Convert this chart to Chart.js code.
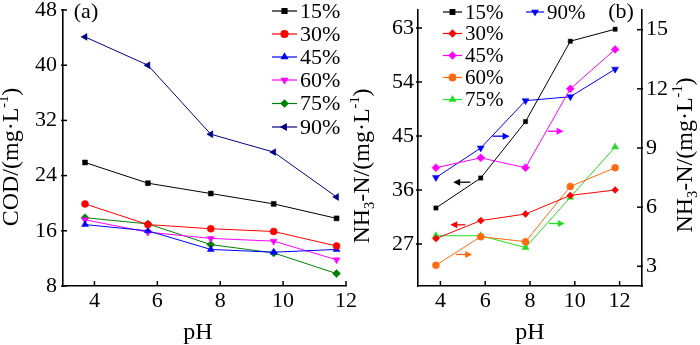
<!DOCTYPE html>
<html><head><meta charset="utf-8">
<script src="https://cdn.jsdelivr.net/npm/chart.js@4/dist/chart.umd.min.js"></script>
<style>
html,body{margin:0;padding:0;background:#fff;width:700px;height:345px;overflow:hidden}
#ca{position:absolute;left:0;top:0;width:370px;height:345px}
#cb{position:absolute;left:350px;top:0;width:350px;height:345px}
</style></head><body>
<canvas id="ca" width="370" height="345"></canvas>
<canvas id="cb" width="350" height="345"></canvas>
<script>
// ---------- data ----------
const seriesLabels = ['15%','30%','45%','60%','75%','90%'];
// panel (a): COD vs pH
const phA = [3.7, 5.7, 7.7, 9.7, 11.7];
const cod15 = [25.9, 22.9, 21.4, 19.9, 17.8];
const cod30 = [19.9, 16.9, 16.3, 15.9, 13.8];
const cod45 = [16.9, 16.0, 13.3, 12.9, 13.3];
const cod60 = [17.6, 15.8, 14.9, 14.5, 11.8];
const cod75 = [17.9, 17.0, 14.0, 12.8, 9.8];
const cod90 = [44.1, 40.0, 30.0, 27.4, 20.9];
const xTicksA = [4, 6, 8, 10, 12];
const yTicksA = [8, 16, 24, 32, 40, 48];
// panel (b): NH3-N vs pH (15%, 30% on left axis; others on right axis)
const phB = [3.8, 5.8, 7.8, 9.8, 11.8];
const nh15 = [33.0, 38.0, 47.4, 60.8, 62.8];
const nh30 = [27.9, 30.9, 32.0, 35.1, 36.0];
const nh45 = [8.0, 8.5, 8.0, 12.0, 14.0];
const nh60 = [3.05, 4.5, 4.25, 7.05, 8.0];
const nh75 = [4.55, 4.55, 3.95, 6.5, 9.05];
const nh90 = [7.5, 9.0, 11.4, 11.6, 13.0];
const xTicksB = [4, 6, 8, 10, 12];
const yTicksBLeft = [27, 36, 45, 54, 63];
const yTicksBRight = [3, 6, 9, 12, 15];

// ---------- styles ----------
const FONT = '"Liberation Serif", "Times New Roman", "DejaVu Serif", serif';
const stylesA = [
  {c:'#000000', ps:'rect', rot:0},
  {c:'#ff0000', ps:'circle', rot:0},
  {c:'#0000ff', ps:'triangle', rot:0},
  {c:'#ff00ff', ps:'triangle', rot:180},
  {c:'#007f00', ps:'rectRot', rot:0},
  {c:'#000080', ps:'triangle', rot:270}
];
const stylesB = [
  {c:'#000000', ps:'rect', rot:0, ax:'y'},
  {c:'#ff0000', ps:'rectRot', rot:0, ax:'y'},
  {c:'#ff00ff', ps:'rectRot', rot:0, ax:'y1'},
  {c:'#ff6a10', ps:'circle', rot:0, ax:'y1'},
  {c:'#22dd22', ps:'triangle', rot:0, ax:'y1'},
  {c:'#0000ff', ps:'triangle', rot:180, ax:'y1'}
];
// arrows in panel (b): [fromX, toX, y, axis, color]
const arrowsB = [
  [5.34, 4.57, 37.3, 'y', '#000000'],
  [5.11, 4.44, 30.2, 'y', '#ff0000'],
  [6.33, 7.09, 9.6, 'y1', '#0000ff'],
  [8.80, 9.50, 9.85, 'y1', '#ff00ff'],
  [8.85, 9.55, 5.17, 'y1', '#22dd22'],
  [4.70, 5.42, 3.6, 'y1', '#ff6a10']
];

function mk(xs, ys){ return xs.map((x,i)=>({x:x, y:ys[i]})); }
function ds(label, xs, ys, st, r){
  return {label, data: mk(xs, ys), borderColor: st.c, backgroundColor: st.c, borderWidth: 1,
    pointStyle: st.ps, pointRotation: st.rot, pointRadius: r, pointBorderWidth: 0.5,
    pointBorderColor: st.c, pointBackgroundColor: st.c, tension: 0, yAxisID: st.ax || 'y', clip: false};
}
const tickFont = {family: FONT, size: 22};

function richText(ctx, segs, x, y, size, rot){
  ctx.save();
  ctx.translate(x, y); ctx.rotate(rot);
  let total = 0;
  segs.forEach(s=>{ s.sz = (s.sub||s.sup) ? size*0.6 : size; ctx.font = s.sz+'px '+FONT; s.w = ctx.measureText(s.t).width; total += s.w; });
  let cx = -total/2;
  const base = size*0.27;
  ctx.fillStyle = '#000'; ctx.textBaseline = 'alphabetic'; ctx.textAlign = 'left';
  segs.forEach(s=>{
    ctx.font = s.sz+'px '+FONT;
    let by = base + (s.sub ? size*0.2 : 0) - (s.sup ? size*0.42 : 0);
    ctx.fillText(s.t, cx, by);
    cx += s.w;
  });
  ctx.restore();
}
function legendItem(ctx, st, x1, x2, y, r, text, size, tx){
  ctx.save();
  ctx.strokeStyle = st.c; ctx.fillStyle = st.c; ctx.lineWidth = 1.2;
  ctx.beginPath(); ctx.moveTo(x1, y); ctx.lineTo(x2, y); ctx.stroke();
  Chart.helpers.drawPoint(ctx, {pointStyle: st.ps, radius: r, rotation: st.rot, borderWidth: 0.5}, (x1+x2)/2, y);
  ctx.fillStyle = '#000'; ctx.font = size+'px '+FONT; ctx.textBaseline = 'middle'; ctx.textAlign = 'left';
  ctx.fillText(text, tx, y + 1);
  ctx.restore();
}
function inwardTicks(ctx, scale, vals, side){
  ctx.save(); ctx.strokeStyle = '#000'; ctx.lineWidth = 1.5;
  vals.forEach(v=>{
    const p = scale.getPixelForValue(v);
    ctx.beginPath();
    if (side==='bottom'){ ctx.moveTo(p, scale.top); ctx.lineTo(p, scale.top-5); }
    if (side==='left'){ ctx.moveTo(scale.right-2, p); ctx.lineTo(scale.right+4, p); }
    if (side==='right'){ ctx.moveTo(scale.left+1, p); ctx.lineTo(scale.left-5, p); }
    ctx.stroke();
  });
  ctx.restore();
}
function arrow(ctx, x1, x2, y, color){
  ctx.save(); ctx.strokeStyle = color; ctx.fillStyle = color; ctx.lineWidth = 1.3;
  const dir = Math.sign(x2 - x1);
  ctx.beginPath(); ctx.moveTo(x1, y); ctx.lineTo(x2 - dir*4, y); ctx.stroke();
  ctx.beginPath(); ctx.moveTo(x2, y); ctx.lineTo(x2 - dir*7, y-3.5); ctx.lineTo(x2 - dir*7, y+3.5); ctx.closePath(); ctx.fill();
  ctx.restore();
}
function baseScale(min, max, tickVals, side, fitFn){
  return {type:'linear', min, max, position: side,
    afterBuildTicks: s=>{ s.ticks = tickVals.map(v=>({value:v})); },
    grid:{display:false, drawTicks:false},
    border:{display:true, color:'#000', width:1.6},
    ticks:{font: tickFont, color:'#000', padding: 6, autoSkip:false, maxRotation:0},
    afterFit: fitFn};
}

// ---------- chart (a) ----------
const pluginA = {id:'decoA', afterDraw(chart){
  const ctx = chart.ctx, sx = chart.scales.x, sy = chart.scales.y;
  inwardTicks(ctx, sx, xTicksA, 'bottom');
  inwardTicks(ctx, sy, yTicksA, 'left');
  const lys = [11, 34, 57, 80, 103.5, 127];
  seriesLabels.forEach((t,i)=> legendItem(ctx, stylesA[i], 272, 297, lys[i], 3.5, t, 22, 300));
  richText(ctx, [{t:'(a)'}], 86, 12, 22, 0);
  richText(ctx, [{t:'COD/(mg·L'},{t:'-1',sup:true},{t:')'}], 12, 157, 24, -Math.PI/2);
  richText(ctx, [{t:'pH'}], 198, 333, 24, 0);
}};
new Chart(document.getElementById('ca'), {
  type:'line',
  data:{datasets:[
    ds('15%', phA, cod15, stylesA[0], 3.5),
    ds('30%', phA, cod30, stylesA[1], 3.5),
    ds('45%', phA, cod45, stylesA[2], 4),
    ds('60%', phA, cod60, stylesA[3], 4),
    ds('75%', phA, cod75, stylesA[4], 4),
    ds('90%', phA, cod90, stylesA[5], 4)
  ]},
  options:{responsive:false, animation:false, devicePixelRatio:1,
    layout:{padding:{top:10, right:24, left:0, bottom:0}},
    plugins:{legend:{display:false}, tooltip:{enabled:false}},
    scales:{
      x: Object.assign(baseScale(3, 12, xTicksA, 'bottom', s=>{s.height=59; s.paddingLeft=0; s.paddingRight=0;}), {ticks:{font:tickFont,color:'#000',padding:2,autoSkip:false,maxRotation:0}}),
      y: baseScale(8, 48, yTicksA, 'left', s=>{s.width=63; s.paddingTop=0; s.paddingBottom=0;})
    }
  },
  plugins:[pluginA]
});

// ---------- chart (b) ----------
const pluginB = {id:'decoB', afterDraw(chart){
  const ctx = chart.ctx, sx = chart.scales.x, sy = chart.scales.y, sy1 = chart.scales.y1;
  inwardTicks(ctx, sx, xTicksB, 'bottom');
  inwardTicks(ctx, sy, yTicksBLeft, 'left');
  inwardTicks(ctx, sy1, yTicksBRight, 'right');
  arrowsB.forEach(a=>{
    const s = chart.scales[a[3]];
    arrow(ctx, sx.getPixelForValue(a[0]), sx.getPixelForValue(a[1]), s.getPixelForValue(a[2]), a[4]);
  });
  const lys = [12, 33.5, 55.5, 77.5, 99.5];
  for (let i=0;i<5;i++) legendItem(ctx, stylesB[i], 93, 112, lys[i], 3.3, seriesLabels[i], 21, 115);
  legendItem(ctx, stylesB[5], 176, 194, 12, 3.3, seriesLabels[5], 21, 197);
  richText(ctx, [{t:'(b)'}], 271, 12, 22, 0);
  richText(ctx, [{t:'NH'},{t:'3',sub:true},{t:'-N/(mg·L'},{t:'-1',sup:true},{t:')'}], 13, 166, 24, -Math.PI/2);
  richText(ctx, [{t:'NH'},{t:'3',sub:true},{t:'-N/(mg·L'},{t:'-1',sup:true},{t:')'}], 336, 155, 24, -Math.PI/2);
  richText(ctx, [{t:'pH'}], 180, 333, 24, 0);
}};
new Chart(document.getElementById('cb'), {
  type:'line',
  data:{datasets:[
    ds('15%', phB, nh15, stylesB[0], 3),
    ds('30%', phB, nh30, stylesB[1], 3.5),
    ds('45%', phB, nh45, stylesB[2], 4),
    ds('60%', phB, nh60, stylesB[3], 3.5),
    ds('75%', phB, nh75, stylesB[4], 4),
    ds('90%', phB, nh90, stylesB[5], 4)
  ]},
  options:{responsive:false, animation:false, devicePixelRatio:1,
    layout:{padding:{top:10, right:0, left:0, bottom:0}},
    plugins:{legend:{display:false}, tooltip:{enabled:false}},
    scales:{
      x: Object.assign(baseScale(3, 13, xTicksB, 'bottom', s=>{s.height=59; s.paddingLeft=0; s.paddingRight=0;}), {ticks:{font:tickFont,color:'#000',padding:2,autoSkip:false,maxRotation:0}}),
      y: Object.assign(baseScale(20, 66, yTicksBLeft, 'left', s=>{s.width=68; s.paddingTop=0; s.paddingBottom=0;}), {ticks:{font:tickFont,color:'#000',padding:4,autoSkip:false}}),
      y1: Object.assign(baseScale(2, 16, yTicksBRight, 'right', s=>{s.width=58; s.paddingTop=0; s.paddingBottom=0;}), {ticks:{font:tickFont,color:'#000',padding:4,autoSkip:false}})
    }
  },
  plugins:[pluginB]
});
</script>
</body></html>
